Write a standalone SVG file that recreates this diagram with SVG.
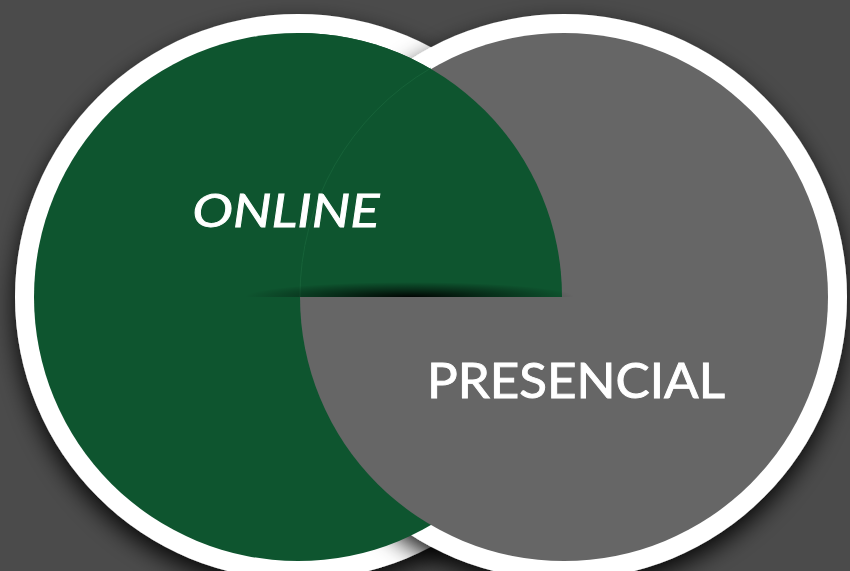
<svg xmlns="http://www.w3.org/2000/svg" width="850" height="571" viewBox="0 0 850 571">
  <defs>
    <filter id="shadow" x="-20%" y="-20%" width="140%" height="150%">
      <feDropShadow dx="0" dy="10" stdDeviation="12" flood-color="#000" flood-opacity="0.9"/>
    </filter>
    <radialGradient id="edgeShade" cx="0.5" cy="0.5" r="0.5">
      <stop offset="0" stop-color="#000" stop-opacity="0.95"/>
      <stop offset="0.5" stop-color="#000" stop-opacity="0.45"/>
      <stop offset="1" stop-color="#000" stop-opacity="0"/>
    </radialGradient>
    <clipPath id="aboveLine">
      <rect x="0" y="250" width="850" height="47"/>
    </clipPath>
    <style>
      .ring { fill: #ffffff; }
      .label { fill: #ffffff; stroke: #ffffff; stroke-width: 0.9; font-family: Lato, "Open Sans", "Liberation Sans", sans-serif; font-weight: 400; }
    </style>
  </defs>
  <rect width="850" height="571" fill="#4b4b4b"/>
  <g id="online-ring">
    <circle class="ring" cx="298" cy="297" r="283" filter="url(#shadow)"/>
  </g>
  <g id="presencial-ring">
    <circle class="ring" cx="564" cy="297" r="283" filter="url(#shadow)"/>
  </g>
  <g id="online">
    <circle cx="298" cy="297" r="264" fill="#0e552f"/>
  </g>
  <g id="presencial">
    <circle cx="564" cy="297" r="264" fill="#666666"/>
    <text class="label" x="576" y="398" font-size="48" text-anchor="middle" textLength="298" lengthAdjust="spacingAndGlyphs">PRESENCIAL</text>
  </g>
  <g id="online-overlap">
    <path d="M298,297 L298,33 A264,264 0 0 1 562,297 Z" fill="#0e552f"/>
    <path d="M300,297 A264,264 0 0 1 431,68" fill="none" stroke="#1d6a3f" stroke-opacity="0.6" stroke-width="1"/>
    <ellipse cx="410" cy="297" rx="165" ry="15" fill="url(#edgeShade)" clip-path="url(#aboveLine)"/>
    <text class="label" x="286" y="227" font-size="47" font-style="italic" text-anchor="middle" textLength="187" lengthAdjust="spacingAndGlyphs">ONLINE</text>
  </g>
</svg>
